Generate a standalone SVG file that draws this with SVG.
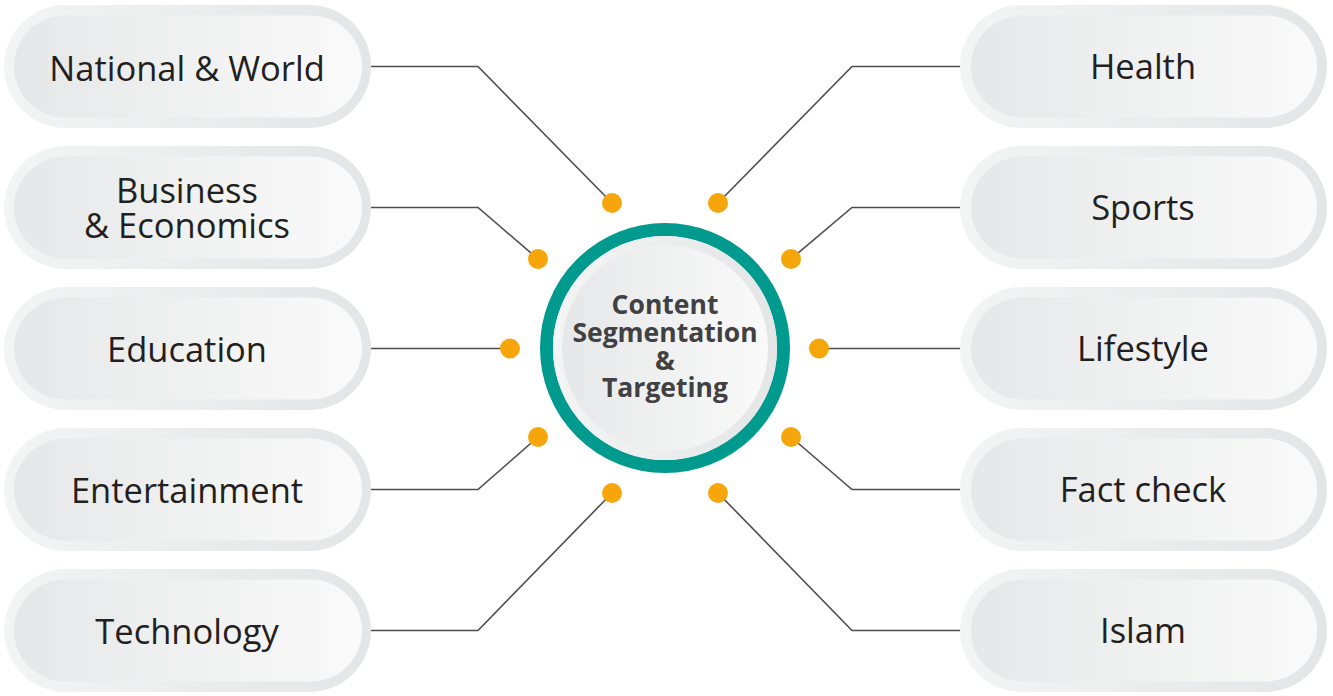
<svg xmlns="http://www.w3.org/2000/svg" width="1333" height="696" viewBox="0 0 1333 696">
<defs>
<linearGradient id="gOuter" x1="0" y1="0" x2="1" y2="0">
<stop offset="0" stop-color="#f3f4f4"/>
<stop offset="1" stop-color="#e4e5e6"/>
</linearGradient>
<linearGradient id="gInner" x1="0" y1="0" x2="1" y2="0">
<stop offset="0" stop-color="#e6e7e8"/>
<stop offset="1" stop-color="#fafafa"/>
</linearGradient>
<style>
.po{fill:url(#gOuter)}
.pi{fill:url(#gInner)}
.lbl{font-family:"Open Sans","Noto Sans",sans-serif;font-size:34.5px;fill:#231f20;text-anchor:middle}
.ctr{font-family:"Open Sans","Noto Sans",sans-serif;font-size:26.5px;font-weight:bold;fill:#414042;text-anchor:middle}
.ln{fill:none;stroke:#4d4d4f;stroke-width:1.6}
.dot{fill:#f6a60a}
</style>
</defs>
<rect width="1333" height="696" fill="#ffffff"/>
<g id="connectors">
<polyline class="ln" points="371,66.5 478,66.5 612,203"/>
<polyline class="ln" points="371,207.5 478,207.5 538,259"/>
<polyline class="ln" points="371,348.5 510,348.5"/>
<polyline class="ln" points="371,489.5 478,489.5 538,437"/>
<polyline class="ln" points="371,630.5 478,630.5 612,493"/>
<polyline class="ln" points="960,66.5 852,66.5 718,203"/>
<polyline class="ln" points="960,207.5 852,207.5 791,259"/>
<polyline class="ln" points="960,348.5 819,348.5"/>
<polyline class="ln" points="960,489.5 852,489.5 791,437"/>
<polyline class="ln" points="960,630.5 852,630.5 718,493"/>
<circle class="dot" cx="612" cy="203" r="10"/>
<circle class="dot" cx="538" cy="259" r="10"/>
<circle class="dot" cx="510" cy="348.5" r="10"/>
<circle class="dot" cx="538" cy="437" r="10"/>
<circle class="dot" cx="612" cy="493" r="10"/>
<circle class="dot" cx="718" cy="203" r="10"/>
<circle class="dot" cx="791" cy="259" r="10"/>
<circle class="dot" cx="819" cy="348.5" r="10"/>
<circle class="dot" cx="791" cy="437" r="10"/>
<circle class="dot" cx="718" cy="493" r="10"/>
</g>
<g id="center">
<circle cx="665" cy="348" r="118.5" fill="none" stroke="#009a8f" stroke-width="13"/>
<circle cx="665" cy="348" r="112" fill="url(#gOuter)"/>
<circle cx="665" cy="348" r="103" fill="url(#gInner)"/>
<text class="ctr" x="665" y="314">Content</text>
<text class="ctr" x="665" y="342">Segmentation</text>
<text class="ctr" x="665" y="370">&amp;</text>
<text class="ctr" x="665" y="397">Targeting</text>
</g>
<g id="n-national">
<rect class="po" x="4" y="5" width="367" height="123" rx="61.5"/>
<rect class="pi" x="14" y="15.5" width="348" height="102" rx="51"/>
<text class="lbl" x="187" y="81">National &amp; World</text>
</g>
<g id="n-business">
<rect class="po" x="4" y="146" width="367" height="123" rx="61.5"/>
<rect class="pi" x="14" y="156.5" width="348" height="102" rx="51"/>
<text class="lbl" x="187" y="203">Business</text>
<text class="lbl" x="187" y="238">&amp; Economics</text>
</g>
<g id="n-education">
<rect class="po" x="4" y="287" width="367" height="123" rx="61.5"/>
<rect class="pi" x="14" y="297.5" width="348" height="102" rx="51"/>
<text class="lbl" x="187" y="362">Education</text>
</g>
<g id="n-entertainment">
<rect class="po" x="4" y="428" width="367" height="123" rx="61.5"/>
<rect class="pi" x="14" y="438.5" width="348" height="102" rx="51"/>
<text class="lbl" x="187" y="503">Entertainment</text>
</g>
<g id="n-technology">
<rect class="po" x="4" y="569" width="367" height="123" rx="61.5"/>
<rect class="pi" x="14" y="579.5" width="348" height="102" rx="51"/>
<text class="lbl" x="187" y="644">Technology</text>
</g>
<g id="n-health">
<rect class="po" x="960" y="5" width="367" height="123" rx="61.5"/>
<rect class="pi" x="971" y="15.5" width="346" height="102" rx="51"/>
<text class="lbl" x="1143" y="79">Health</text>
</g>
<g id="n-sports">
<rect class="po" x="960" y="146" width="367" height="123" rx="61.5"/>
<rect class="pi" x="971" y="156.5" width="346" height="102" rx="51"/>
<text class="lbl" x="1143" y="220">Sports</text>
</g>
<g id="n-lifestyle">
<rect class="po" x="960" y="287" width="367" height="123" rx="61.5"/>
<rect class="pi" x="971" y="297.5" width="346" height="102" rx="51"/>
<text class="lbl" x="1143" y="361">Lifestyle</text>
</g>
<g id="n-factcheck">
<rect class="po" x="960" y="428" width="367" height="123" rx="61.5"/>
<rect class="pi" x="971" y="438.5" width="346" height="102" rx="51"/>
<text class="lbl" x="1143" y="502">Fact check</text>
</g>
<g id="n-islam">
<rect class="po" x="960" y="569" width="367" height="123" rx="61.5"/>
<rect class="pi" x="971" y="579.5" width="346" height="102" rx="51"/>
<text class="lbl" x="1143" y="643">Islam</text>
</g>
</svg>
